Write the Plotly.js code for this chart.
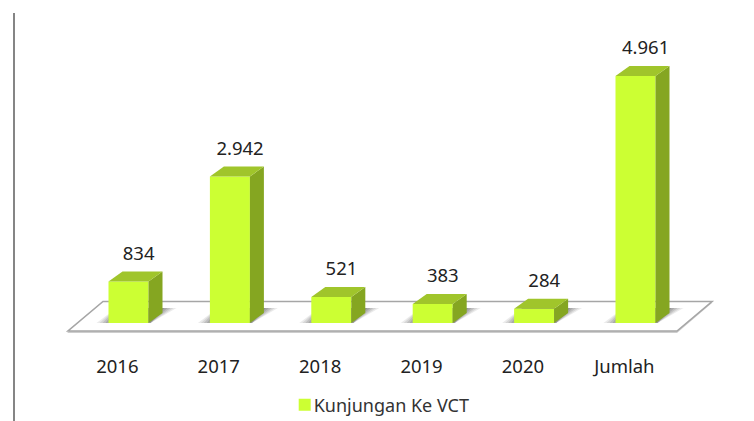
<!DOCTYPE html>
<html><head><meta charset="utf-8">
<script src="https://cdn.plot.ly/plotly-3.0.1.min.js"></script>
<style>html,body{margin:0;padding:0;background:#fff}</style></head>
<body><div id="chart" style="width:754px;height:421px"></div>
<script>
var categories = ["2016","2017","2018","2019","2020","Jumlah"];
var seriesName = "Kunjungan Ke VCT";
var values = [834,2942,521,383,284,4961];
var valueLabels = ["834","2.942","521","383","284","4.961"];

var FRONT="#CCFF33", TOP="#A0C52B", SIDE="#85A621";
var W=754,H=421,pxX=101.4,pxY=20.08;
var x0Px=128.5,y0Px=323,plotBottom=353;
var idx=categories.map(function(_,i){return i;});
var barW=40/pxX, dx=14/pxX, dy=10*pxY;
function poly(name,color,pts){return {type:"scatter",mode:"lines",x:pts.map(function(p){return p[0]}),y:pts.map(function(p){return p[1]}),
  fill:"toself",fillcolor:color,line:{width:0,color:color},showlegend:false,hoverinfo:"skip",name:name};}
var traces=[{type:"bar",name:seriesName,x:idx,y:values,width:barW,marker:{color:FRONT,line:{width:0}},showlegend:true,hoverinfo:"x+y"}];
idx.forEach(function(i){
  var l=i-barW/2,r=i+barW/2,v=values[i];
  traces.push(poly("side",SIDE,[[r,0],[r+dx,dy],[r+dx,v+dy],[r,v]]));
  traces.push(poly("top",TOP,[[l,v],[r,v],[r+dx,v+dy],[l+dx,v+dy]]));
});
traces.push({type:"scatter",mode:"text",x:idx.map(function(i){return i+0.1}),y:values.map(function(v){return v+pxY*26.5}),
  text:valueLabels,textposition:"middle center",textfont:{family:"Noto Sans",size:18.5,color:"#222"},showlegend:false,hoverinfo:"skip"});

function X(px){return (px-x0Px)/pxX} function Y(px){return (y0Px-px)*pxY}
function path(pts){return "M"+pts.map(function(p){return X(p[0])+","+Y(p[1])}).join("L")+"Z"}
var shapes=[];
shapes.push({type:"path",layer:"below",xref:"x",yref:"y",path:path([[67,333],[677,333],[712,303],[102,303]]),fillcolor:"rgba(205,205,205,1)",line:{width:0}});
shapes.push({type:"path",layer:"below",xref:"x",yref:"y",path:path([[68,331],[677,331],[712,301.5],[103,301.5]]),fillcolor:"#fff",line:{color:"#a6a6a6",width:1.6}});
idx.forEach(function(i){
  var c=x0Px+pxX*i,l=c-20,r=c+20;
  [[12,0.12],[9,0.14],[6,0.18],[3,0.22],[0,0.26]].forEach(function(s){
    var k=s[0];
    shapes.push({type:"path",layer:"below",xref:"x",yref:"y",
      path:path([[l-k,323],[r+2,323],[r+16+k,308],[l+8,308]]),fillcolor:"rgba(90,90,90,"+s[1]+")",line:{width:0}});
  });
});
shapes.push({type:"line",xref:"paper",yref:"paper",x0:14/W,x1:14/W,y0:(plotBottom-H)/plotBottom,y1:1-13/plotBottom,line:{color:"#858585",width:2}});

var layout={width:W,height:H,paper_bgcolor:"#fff",plot_bgcolor:"rgba(0,0,0,0)",
  margin:{l:0,r:0,t:0,b:H-plotBottom,pad:0,autoexpand:false},
  font:{family:"Noto Sans",size:16,color:"#222"},
  xaxis:{automargin:false,range:[X(0),X(W)],tickmode:"array",tickvals:idx.map(function(i){return i-0.11}),ticktext:categories,showgrid:false,zeroline:false,showline:false,ticks:"",tickfont:{family:"Noto Sans",size:18.5,color:"#222"},fixedrange:true},
  yaxis:{range:[Y(plotBottom),Y(0)],visible:false,fixedrange:true},
  shapes:shapes,
  showlegend:true,
  legend:{orientation:"h",x:0.363,xanchor:"left",y:-0.095,yanchor:"top",font:{family:"Noto Sans",size:18,color:"#333"},itemwidth:30,bgcolor:"rgba(0,0,0,0)"}
};
Plotly.newPlot("chart",traces,layout,{displayModeBar:false,staticPlot:true}).then(function(gd){
  var s=gd.querySelector(".legend .legendsymbols");
  if(s){s.setAttribute("transform","translate(11,0)");}
});
</script></body></html>
